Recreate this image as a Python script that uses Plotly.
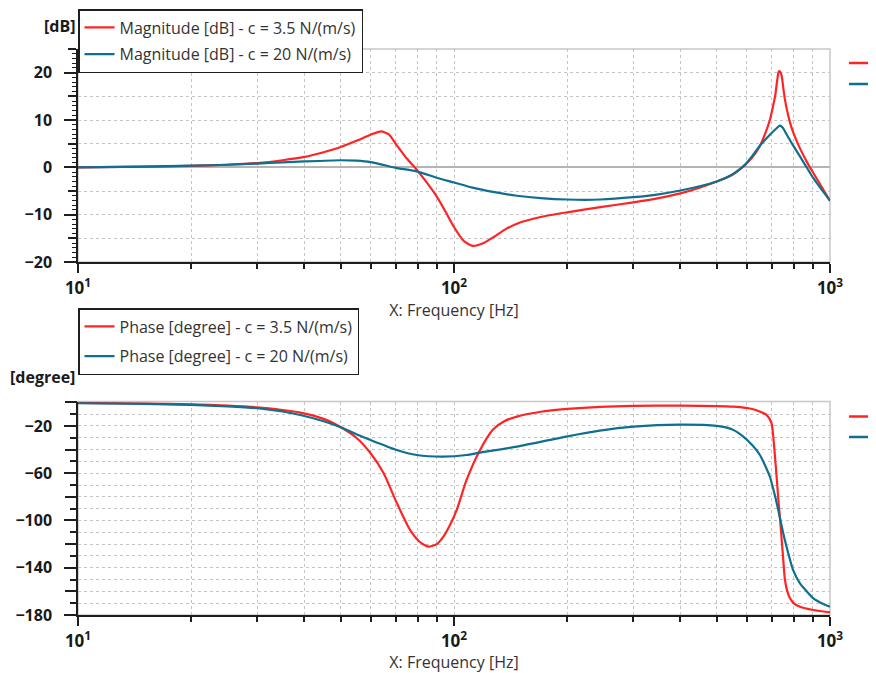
import plotly.graph_objects as go

# ---------------- data ----------------
mag_freq_c35 = [10, 15, 20, 25, 30, 35, 40, 45, 50, 55, 60, 64, 67, 70.4, 75, 79.6, 85, 90, 95, 100,
                106, 112, 119, 127, 137, 147, 170, 200, 245, 300, 350, 400, 450, 500, 550, 590,
                620, 650, 675, 692, 705, 715, 724, 731, 738, 744, 752, 759, 775, 791, 810, 832,
                870, 903, 950, 1000]
mag_db_c35 = [0.0, 0.15, 0.3, 0.55, 0.9, 1.5, 2.2, 3.2, 4.3, 5.6, 6.9, 7.6, 7.0, 4.7, 1.8, -0.5, -3.4,
              -6.2, -9.4, -12.6, -15.5, -16.6, -16.1, -14.8, -13.1, -11.9, -10.5, -9.5, -8.4, -7.4,
              -6.5, -5.5, -4.3, -3.0, -1.6, 0.3, 2.0, 4.4, 7.5, 10.0, 12.8, 15.2, 18.5, 20.3, 20.1,
              19.3, 16.5, 14.3, 10.8, 8.3, 6.1, 4.0, 1.0, -1.2, -4.1, -7.1]

mag_freq_c20 = [10, 15, 20, 25, 30, 35, 40, 50, 55, 60, 65, 70, 80, 90, 100, 112, 127, 147, 170, 200,
                245, 300, 350, 400, 450, 500, 550, 590, 620, 650, 692, 720, 735, 748, 766, 791, 832,
                870, 903, 950, 1000]
mag_db_c20 = [0.0, 0.15, 0.35, 0.55, 0.8, 1.05, 1.25, 1.5, 1.4, 1.1, 0.5, -0.1, -0.9, -2.2, -3.2, -4.3,
              -5.2, -6.0, -6.5, -6.8, -6.8, -6.3, -5.7, -4.9, -4.0, -3.0, -1.5, 0.3, 2.3, 4.5, 6.9,
              8.2, 8.8, 8.4, 7.0, 5.1, 2.3, -0.2, -2.3, -4.7, -7.0]

ph_freq_c35 = [10, 15, 20, 25, 30, 35, 39, 45, 50, 55, 60, 65, 70.4, 76.4, 81, 85.5, 90, 93.7, 97.5,
               101.7, 108, 117.3, 127, 136, 147, 170, 200, 245, 300, 400, 553, 625, 678, 699, 707, 714,
               722, 729, 737, 744, 751, 759, 770, 783, 800, 832, 903, 1000]
ph_deg_c35 = [-0.5, -1.0, -1.8, -2.8, -4.2, -6.5, -8.7, -14, -21.1, -30, -43.1, -60, -85, -108, -118,
              -122.2, -120, -113.7, -104, -91, -65.7, -40.3, -23, -16, -12.1, -8, -5.6, -3.8, -3.0,
              -2.8, -3.7, -5.9, -10.7, -17.7, -30, -46, -65, -82.7, -100, -116.5, -133, -150.4,
              -160, -165.9, -170, -173, -175.8, -177.8]

ph_freq_c20 = [10, 15, 20, 25, 30, 35, 39, 45, 50, 55, 60, 70.4, 79.6, 93.7, 108, 117, 147, 199, 244,
               300, 399, 500, 550, 588, 620, 651, 692, 715, 735, 750, 766, 798, 832, 870, 903, 950,
               1000]
ph_deg_c20 = [-0.8, -1.4, -2.2, -3.4, -5.0, -7.8, -10.7, -16, -21.1, -27, -31.9, -40.3, -44.6, -46,
              -44.6, -42.6, -37.5, -29, -24, -20.6, -18.9, -20, -23, -29, -36, -44.6, -63, -80,
              -96.8, -110, -122, -142, -153.2, -160.5, -165.9, -170, -173]

names_mag = ["Magnitude [dB] - c = 3.5 N/(m/s)", "Magnitude [dB] - c = 20 N/(m/s)"]
names_ph = ["Phase [degree] - c = 3.5 N/(m/s)", "Phase [degree] - c = 20 N/(m/s)"]

x_major = [10, 100, 1000]
x_major_text = ["10<sup>1</sup>", "10<sup>2</sup>", "10<sup>3</sup>"]
x_minor = [20, 30, 40, 50, 60, 70, 80, 90, 200, 300, 400, 500, 600, 700, 800, 900]

mag_ticks = [-20, -10, 0, 10, 20]
mag_fine_ticks = [v for v in range(-20, 26)]
ph_ticks = [-180, -140, -100, -60, -20]
ph_mid_ticks = [-160, -120, -80, -40, 0]

# ---------------- style ----------------
RED = "#ff2424"
BLUE = "#0f6f8e"
OFF = 8                      # default page margin of the html body
W, H = 876 - OFF, 673 - OFF  # figure fits exactly in the window
FONT = "Open Sans"
GRID = "#c4c4c4"
AX = "#1e1e1e"
TXT = "#1a1a1a"


def px_x(p):
    return (p - OFF) / W


def px_y(p):
    return 1 - (p - OFF) / H


xdom = [px_x(78), px_x(830)]
ydom_top = [px_y(262), px_y(49)]
ydom_bot = [px_y(615), px_y(401.6)]

fig = go.Figure()
line_common = dict(width=2.2, shape="spline", smoothing=0.6)
fig.add_trace(go.Scatter(x=mag_freq_c35, y=mag_db_c35, name=names_mag[0], mode="lines",
                         line=dict(color=RED, **line_common), xaxis="x", yaxis="y",
                         legend="legend", legendgroup="m1"))
fig.add_trace(go.Scatter(x=mag_freq_c20, y=mag_db_c20, name=names_mag[1], mode="lines",
                         line=dict(color=BLUE, **line_common), xaxis="x", yaxis="y",
                         legend="legend", legendgroup="m2"))
fig.add_trace(go.Scatter(x=ph_freq_c35, y=ph_deg_c35, name=names_ph[0], mode="lines",
                         line=dict(color=RED, **line_common), xaxis="x2", yaxis="y2",
                         legend="legend2", legendgroup="p1"))
fig.add_trace(go.Scatter(x=ph_freq_c20, y=ph_deg_c20, name=names_ph[1], mode="lines",
                         line=dict(color=BLUE, **line_common), xaxis="x2", yaxis="y2",
                         legend="legend2", legendgroup="p2"))
# empty helper traces so the extra tick-mark axes are drawn
fig.add_trace(go.Scatter(x=[], y=[], xaxis="x", yaxis="y3", showlegend=False, hoverinfo="skip"))
fig.add_trace(go.Scatter(x=[], y=[], xaxis="x2", yaxis="y4", showlegend=False, hoverinfo="skip"))


def xaxis(anchor):
    return dict(
        type="log", range=[1, 3], domain=xdom, anchor=anchor, automargin=False,
        tickmode="array", tickvals=x_major, ticktext=x_major_text,
        ticks="outside", ticklen=9, tickwidth=1.5, tickcolor=AX,
        showline=True, linecolor=AX, linewidth=1.5,
        showgrid=True, gridcolor=GRID, griddash="dot", gridwidth=1,
        tickfont=dict(family=FONT, size=17, color=TXT, weight="bold"),
        ticklabelstandoff=1,
        minor=dict(tickmode="array", tickvals=x_minor, ticks="outside", ticklen=5,
                   tickwidth=1.5, tickcolor=AX, showgrid=True, gridcolor=GRID,
                   griddash="dot", gridwidth=1),
        title=dict(text="X: Frequency [Hz]", font=dict(family=FONT, size=16, color="#333333"),
                   standoff=2),
        zeroline=False,
    )


fig.update_layout(
    width=W, height=H,
    margin=dict(l=0, r=0, t=0, b=0, autoexpand=False),
    paper_bgcolor="white", plot_bgcolor="white",
    font=dict(family=FONT, color="#222"),
    xaxis=xaxis("y"),
    xaxis2=xaxis("y2"),
    yaxis=dict(
        domain=ydom_top, range=[-20, 25], anchor="x", automargin=False,
        tickmode="array", tickvals=mag_ticks,
        ticks="outside", ticklen=12, tickwidth=1.5, tickcolor=AX,
        showline=True, linecolor=AX, linewidth=1.5,
        showgrid=True, gridcolor=GRID, griddash="dot", gridwidth=1,
        zeroline=True, zerolinecolor="#b4b4b4", zerolinewidth=1.5,
        tickfont=dict(family=FONT, size=16, color=TXT, weight="bold"),
        ticklabelstandoff=9,
        minor=dict(dtick=5, tick0=0, ticks="outside", ticklen=8, tickwidth=1.5, tickcolor=AX,
                   showgrid=True, gridcolor=GRID, griddash="dot", gridwidth=1),
    ),
    yaxis3=dict(
        domain=ydom_top, range=[-20, 25], anchor="x", overlaying="y", side="left",
        automargin=False, tickmode="array", tickvals=mag_fine_ticks, showticklabels=False,
        ticks="outside", ticklen=5, tickwidth=1.2, tickcolor=AX,
        showline=False, showgrid=False, zeroline=False,
    ),
    yaxis2=dict(
        domain=ydom_bot, range=[-180, 0.6], anchor="x2", automargin=False,
        tickmode="array", tickvals=ph_ticks,
        ticks="outside", ticklen=12, tickwidth=1.5, tickcolor=AX,
        showline=True, linecolor=AX, linewidth=1.5,
        showgrid=True, gridcolor=GRID, griddash="dot", gridwidth=1,
        zeroline=False,
        tickfont=dict(family=FONT, size=16, color=TXT, weight="bold"),
        ticklabelstandoff=9,
        minor=dict(dtick=10, tick0=0, ticks="outside", ticklen=6, tickwidth=1.5, tickcolor=AX,
                   showgrid=True, gridcolor=GRID, griddash="dot", gridwidth=1),
    ),
    yaxis4=dict(
        domain=ydom_bot, range=[-180, 0.6], anchor="x2", overlaying="y2", side="left",
        automargin=False, tickmode="array", tickvals=ph_mid_ticks, showticklabels=False,
        ticks="outside", ticklen=12, tickwidth=1.5, tickcolor=AX,
        showline=False, showgrid=False, zeroline=False,
    ),
    legend=dict(x=px_x(78), y=px_y(9), xanchor="left", yanchor="top",
                bgcolor="white", bordercolor="#1e1e1e", borderwidth=1.5,
                font=dict(family=FONT, size=16, color="#333333"), tracegroupgap=3),
    legend2=dict(x=px_x(78), y=px_y(308), xanchor="left", yanchor="top",
                 bgcolor="white", bordercolor="#1e1e1e", borderwidth=1.5,
                 font=dict(family=FONT, size=16, color="#333333"), tracegroupgap=6),
    showlegend=True,
)

# light grey frame around the plotting areas (top/right edges)
for xr, yr in (("x domain", "y domain"), ("x2 domain", "y2 domain")):
    fig.add_shape(type="rect", xref=xr, yref=yr, x0=0, x1=1, y0=0, y1=1,
                  line=dict(color="#c8c8c8", width=1.5), layer="below")

# truncated legend samples at the right edge
for yy, col in ((63, RED), (84, BLUE), (416.5, RED), (437, BLUE)):
    fig.add_shape(type="line", xref="paper", yref="paper", x0=px_x(849), x1=1.0,
                  y0=px_y(yy), y1=px_y(yy), line=dict(color=col, width=2.5))

# unit labels
fig.add_annotation(text="<b>[dB]</b>", xref="paper", yref="paper", x=px_x(77), y=px_y(26),
                   xanchor="right", yanchor="middle", showarrow=False,
                   font=dict(family=FONT, size=16, color=TXT))
fig.add_annotation(text="<b>[degree]</b>", xref="paper", yref="paper", x=px_x(77), y=px_y(377),
                   xanchor="right", yanchor="middle", showarrow=False,
                   font=dict(family=FONT, size=16, color=TXT))

fig.write_html("out.html")
